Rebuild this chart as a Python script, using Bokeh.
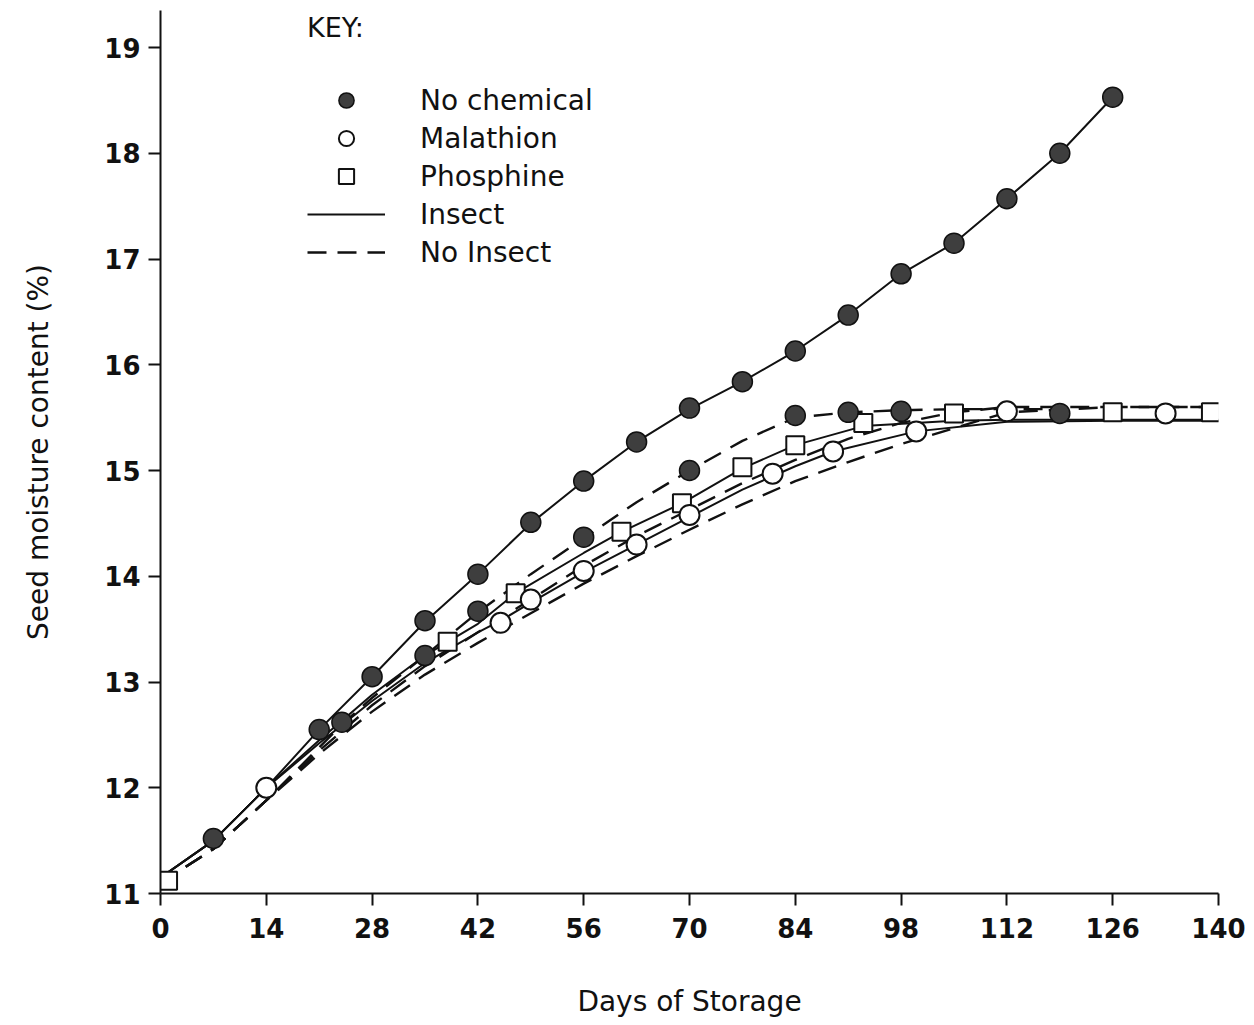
from bokeh.plotting import figure
from bokeh.models import Legend, LegendItem, Range1d, FixedTicker
from bokeh.embed import file_html
from bokeh.resources import INLINE

# ---------------- data ----------------
x_ticks = [0, 14, 28, 42, 56, 70, 84, 98, 112, 126, 140]
y_ticks = [11, 12, 13, 14, 15, 16, 17, 18, 19]

# fitted curves
nc_ins_curve_days = [0, 7, 14, 21, 28, 35, 42, 49, 56, 63, 70, 77, 84, 91, 98, 105, 112, 119, 126]
nc_ins_curve_vals = [11.15, 11.5, 12.0, 12.55, 13.05, 13.57, 14.02, 14.5, 14.9, 15.27, 15.58, 15.84,
                     16.13, 16.47, 16.86, 17.15, 17.57, 18.0, 18.53]

nc_no_curve_days = [0, 7, 14, 21, 24, 28, 35, 42, 49, 56, 63, 70, 77, 84, 91, 98, 105, 112, 119]
nc_no_curve_vals = [11.1, 11.42, 11.88, 12.38, 12.6, 12.85, 13.25, 13.66, 14.02, 14.36, 14.7, 15.0,
                    15.28, 15.5, 15.55, 15.57, 15.58, 15.58, 15.58]

ph_ins_curve_days = [0, 7, 14, 21, 28, 35, 38, 42, 47, 56, 61, 69, 77, 84, 93, 105, 112, 126, 140]
ph_ins_curve_vals = [11.15, 11.5, 12.0, 12.45, 12.88, 13.25, 13.38, 13.55, 13.84, 14.22, 14.42, 14.69,
                     15.02, 15.24, 15.42, 15.47, 15.48, 15.48, 15.48]

ph_no_curve_days = [0, 7, 14, 21, 28, 35, 42, 49, 56, 63, 70, 77, 84, 91, 98, 105, 112, 126, 140]
ph_no_curve_vals = [11.1, 11.42, 11.88, 12.35, 12.78, 13.15, 13.47, 13.78, 14.1, 14.38, 14.63, 14.88,
                    15.1, 15.3, 15.45, 15.55, 15.6, 15.6, 15.6]

ma_ins_curve_days = [0, 7, 14, 21, 28, 35, 42, 45, 49, 56, 63, 70, 77, 84, 89, 100, 112, 126, 140]
ma_ins_curve_vals = [11.15, 11.5, 12.0, 12.42, 12.82, 13.18, 13.47, 13.58, 13.75, 14.04, 14.3, 14.56,
                     14.82, 15.04, 15.18, 15.37, 15.46, 15.47, 15.47]

ma_no_curve_days = [0, 7, 14, 21, 28, 35, 42, 49, 56, 63, 70, 77, 84, 91, 98, 105, 112, 126, 140]
ma_no_curve_vals = [11.1, 11.42, 11.88, 12.32, 12.72, 13.07, 13.37, 13.65, 13.93, 14.19, 14.44, 14.68,
                    14.9, 15.08, 15.25, 15.4, 15.55, 15.6, 15.6]

# observed points
nc_days = [7, 21, 24, 28, 35, 35, 42, 42, 49, 56, 56, 63, 70, 70, 77, 84, 84, 91, 91, 98, 98,
           105, 112, 119, 119, 126]
nc_vals = [11.52, 12.55, 12.62, 13.05, 13.58, 13.25, 14.02, 13.67, 14.51, 14.9, 14.37, 15.27,
           15.59, 15.0, 15.84, 16.13, 15.52, 16.47, 15.55, 16.86, 15.56, 17.15, 17.57, 18.0,
           15.54, 18.53]

ma_days = [14, 45, 49, 56, 63, 70, 81, 89, 100, 112, 133]
ma_vals = [12.0, 13.56, 13.78, 14.05, 14.3, 14.58, 14.97, 15.18, 15.37, 15.56, 15.54]

ph_days = [1, 38, 47, 61, 69, 77, 84, 93, 105, 126, 139]
ph_vals = [11.12, 13.38, 13.84, 14.42, 14.69, 15.03, 15.24, 15.45, 15.54, 15.55, 15.55]

# ---------------- figure ----------------
FONT = "DejaVu Sans"
p = figure(width=1254, height=1025, output_backend="svg", toolbar_location=None,
           x_range=Range1d(0, 140), y_range=Range1d(11, 19.35),
           min_border_left=160, min_border_right=36, min_border_top=10, min_border_bottom=132)
p.outline_line_color = None
p.xgrid.visible = False
p.ygrid.visible = False
p.background_fill_color = "white"
p.border_fill_color = "white"

DASH = "19 11"
LC = "#111111"
LW_S = 2
LW_D = 2.4

r_ins = p.line(nc_ins_curve_days, nc_ins_curve_vals, line_color=LC, line_width=LW_S)
r_no = p.line(nc_no_curve_days, nc_no_curve_vals, line_color=LC, line_width=LW_D, line_dash=DASH)
p.line(ph_ins_curve_days, ph_ins_curve_vals, line_color=LC, line_width=LW_S)
p.line(ph_no_curve_days, ph_no_curve_vals, line_color=LC, line_width=LW_D, line_dash=DASH)
p.line(ma_ins_curve_days, ma_ins_curve_vals, line_color=LC, line_width=LW_S)
p.line(ma_no_curve_days, ma_no_curve_vals, line_color=LC, line_width=LW_D, line_dash=DASH)

r_ph = p.scatter(ph_days, ph_vals, marker="square", size=18, fill_color="white",
                 line_color=LC, line_width=2)
r_ma = p.scatter(ma_days, ma_vals, marker="circle", size=20, fill_color="white",
                 line_color=LC, line_width=2)
r_nc = p.scatter(nc_days, nc_vals, marker="circle", size=20, fill_color="#3e3e3e",
                 line_color=LC, line_width=1.5)

# axes
for ax in (p.xaxis, p.yaxis):
    ax.axis_line_width = 2
    ax.axis_line_color = LC
    ax.major_tick_line_width = 2
    ax.major_tick_line_color = LC
    ax.major_tick_out = 12
    ax.major_tick_in = 0
    ax.minor_tick_line_color = None
    ax.major_label_text_font = FONT
    ax.major_label_text_font_size = "26px"
    ax.major_label_text_font_style = "bold"
    ax.major_label_text_color = LC
    ax.axis_label_text_font = FONT
    ax.axis_label_text_font_size = "28px"
    ax.axis_label_text_font_style = "normal"
    ax.axis_label_text_color = LC

p.xaxis.ticker = FixedTicker(ticks=x_ticks)
p.yaxis.ticker = FixedTicker(ticks=y_ticks)
p.xaxis.axis_label = "Days of Storage"
p.yaxis.axis_label = "Seed moisture content (%)"
p.xaxis.major_label_standoff = 12
p.yaxis.major_label_standoff = 8
p.xaxis.axis_label_standoff = 44
p.yaxis.axis_label_standoff = 46

legend = Legend(items=[
    LegendItem(label="No chemical", renderers=[r_nc]),
    LegendItem(label="Malathion", renderers=[r_ma]),
    LegendItem(label="Phosphine", renderers=[r_ph]),
    LegendItem(label="Insect", renderers=[r_ins]),
    LegendItem(label="No Insect", renderers=[r_no]),
], location=(147, 622), title="KEY:")
legend.border_line_color = None
legend.background_fill_alpha = 0
legend.padding = 0
legend.margin = 0
legend.spacing = 0
legend.glyph_width = 78
legend.glyph_height = 38
legend.label_height = 38
legend.label_standoff = 35
legend.label_text_font = FONT
legend.label_text_font_size = "28px"
legend.label_text_color = LC
legend.title_text_font = FONT
legend.title_text_font_size = "27px"
legend.title_text_font_style = "normal"
legend.title_text_color = LC
legend.title_standoff = 38
p.add_layout(legend)

open("out.html", "w").write(file_html(p, INLINE))
